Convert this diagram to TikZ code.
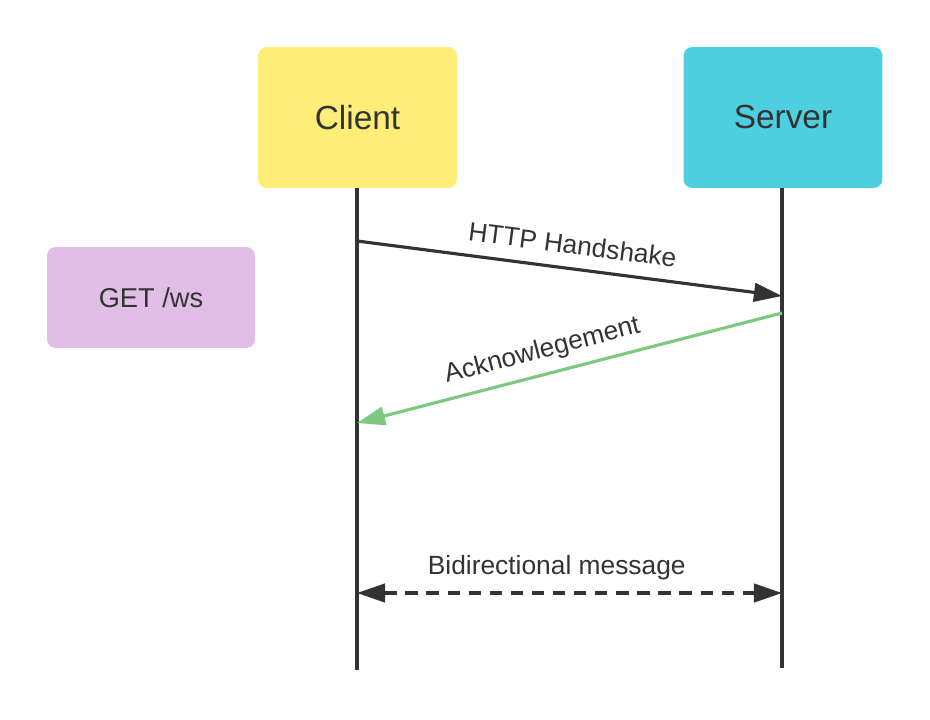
\documentclass[tikz,border=0pt]{standalone}
\usepackage{fontspec}
\setsansfont{Liberation Sans}
\usepackage{xcolor}
\usepackage{tikz}
\usetikzlibrary{arrows.meta, positioning, calc}
\definecolor{ClientYellow}{HTML}{FEEE78}
\definecolor{ServerCyan}{HTML}{4ECFE0}
\definecolor{GetPurple}{HTML}{E0BEE6}
\definecolor{AckGreen}{HTML}{7DC982}
\definecolor{InkGrey}{HTML}{333333}

\tikzset{
    actor/.style={rounded corners=5pt, minimum width=3.98cm, minimum height=2.82cm, inner sep=0pt, text=InkGrey, font=\sffamily\fontsize{19}{21}\selectfont},
    lifeline/.style={InkGrey, line width=1.8pt},
    msg/.style={line width=1.8pt, -{Triangle[length=16pt, width=10.5pt]}},
    msglabel/.style={text=InkGrey, font=\sffamily\fontsize{15}{17}\selectfont}
}

\begin{document}
\begin{tikzpicture}[x=0.02cm, y=-0.02cm]
    % 画布范围
    \useasboundingbox (0,0) rectangle (930,720);

    % 参与者
    \node[actor, fill=ClientYellow] (client) at (357.5,117.5) {Client};
    \node[actor, fill=ServerCyan] (server) at (783,117.5) {Server};
    \node[actor, fill=GetPurple, minimum width=4.16cm, minimum height=2.02cm, font=\sffamily\fontsize{15.5}{17}\selectfont] (get) at (151,297.5) {GET /ws};

    % 生命线
    \coordinate (client-end) at (357,670);
    \coordinate (server-end) at (782,668);
    \draw[lifeline] (client.south -| client-end) -- (client-end);
    \draw[lifeline] (server.south -| server-end) -- (server-end);

    % 消息端点
    \coordinate (hs-from) at (357,241);
    \coordinate (hs-to) at (782,296);
    \coordinate (ack-from) at (782,313);
    \coordinate (ack-to) at (357,423);
    \coordinate (bi-left) at (357,593);
    \coordinate (bi-right) at (782,593);

    % 握手请求
    \draw[msg, InkGrey] (hs-from) -- (hs-to) node[midway, above=4pt, sloped, msglabel] {HTTP Handshake};

    % 确认
    \draw[msg, AckGreen] (ack-from) -- (ack-to) node[pos=0.55, above=2pt, sloped, msglabel] {Acknowlegement};

    % 双向消息
    \draw[InkGrey, line width=1.8pt, dash pattern=on 7pt off 5pt, {Triangle[length=16pt, width=10.5pt]}-{Triangle[length=16pt, width=10.5pt]}] (bi-left) -- (bi-right) node[pos=0.47, above=3pt, msglabel] {Bidirectional message};
\end{tikzpicture}
\end{document}
